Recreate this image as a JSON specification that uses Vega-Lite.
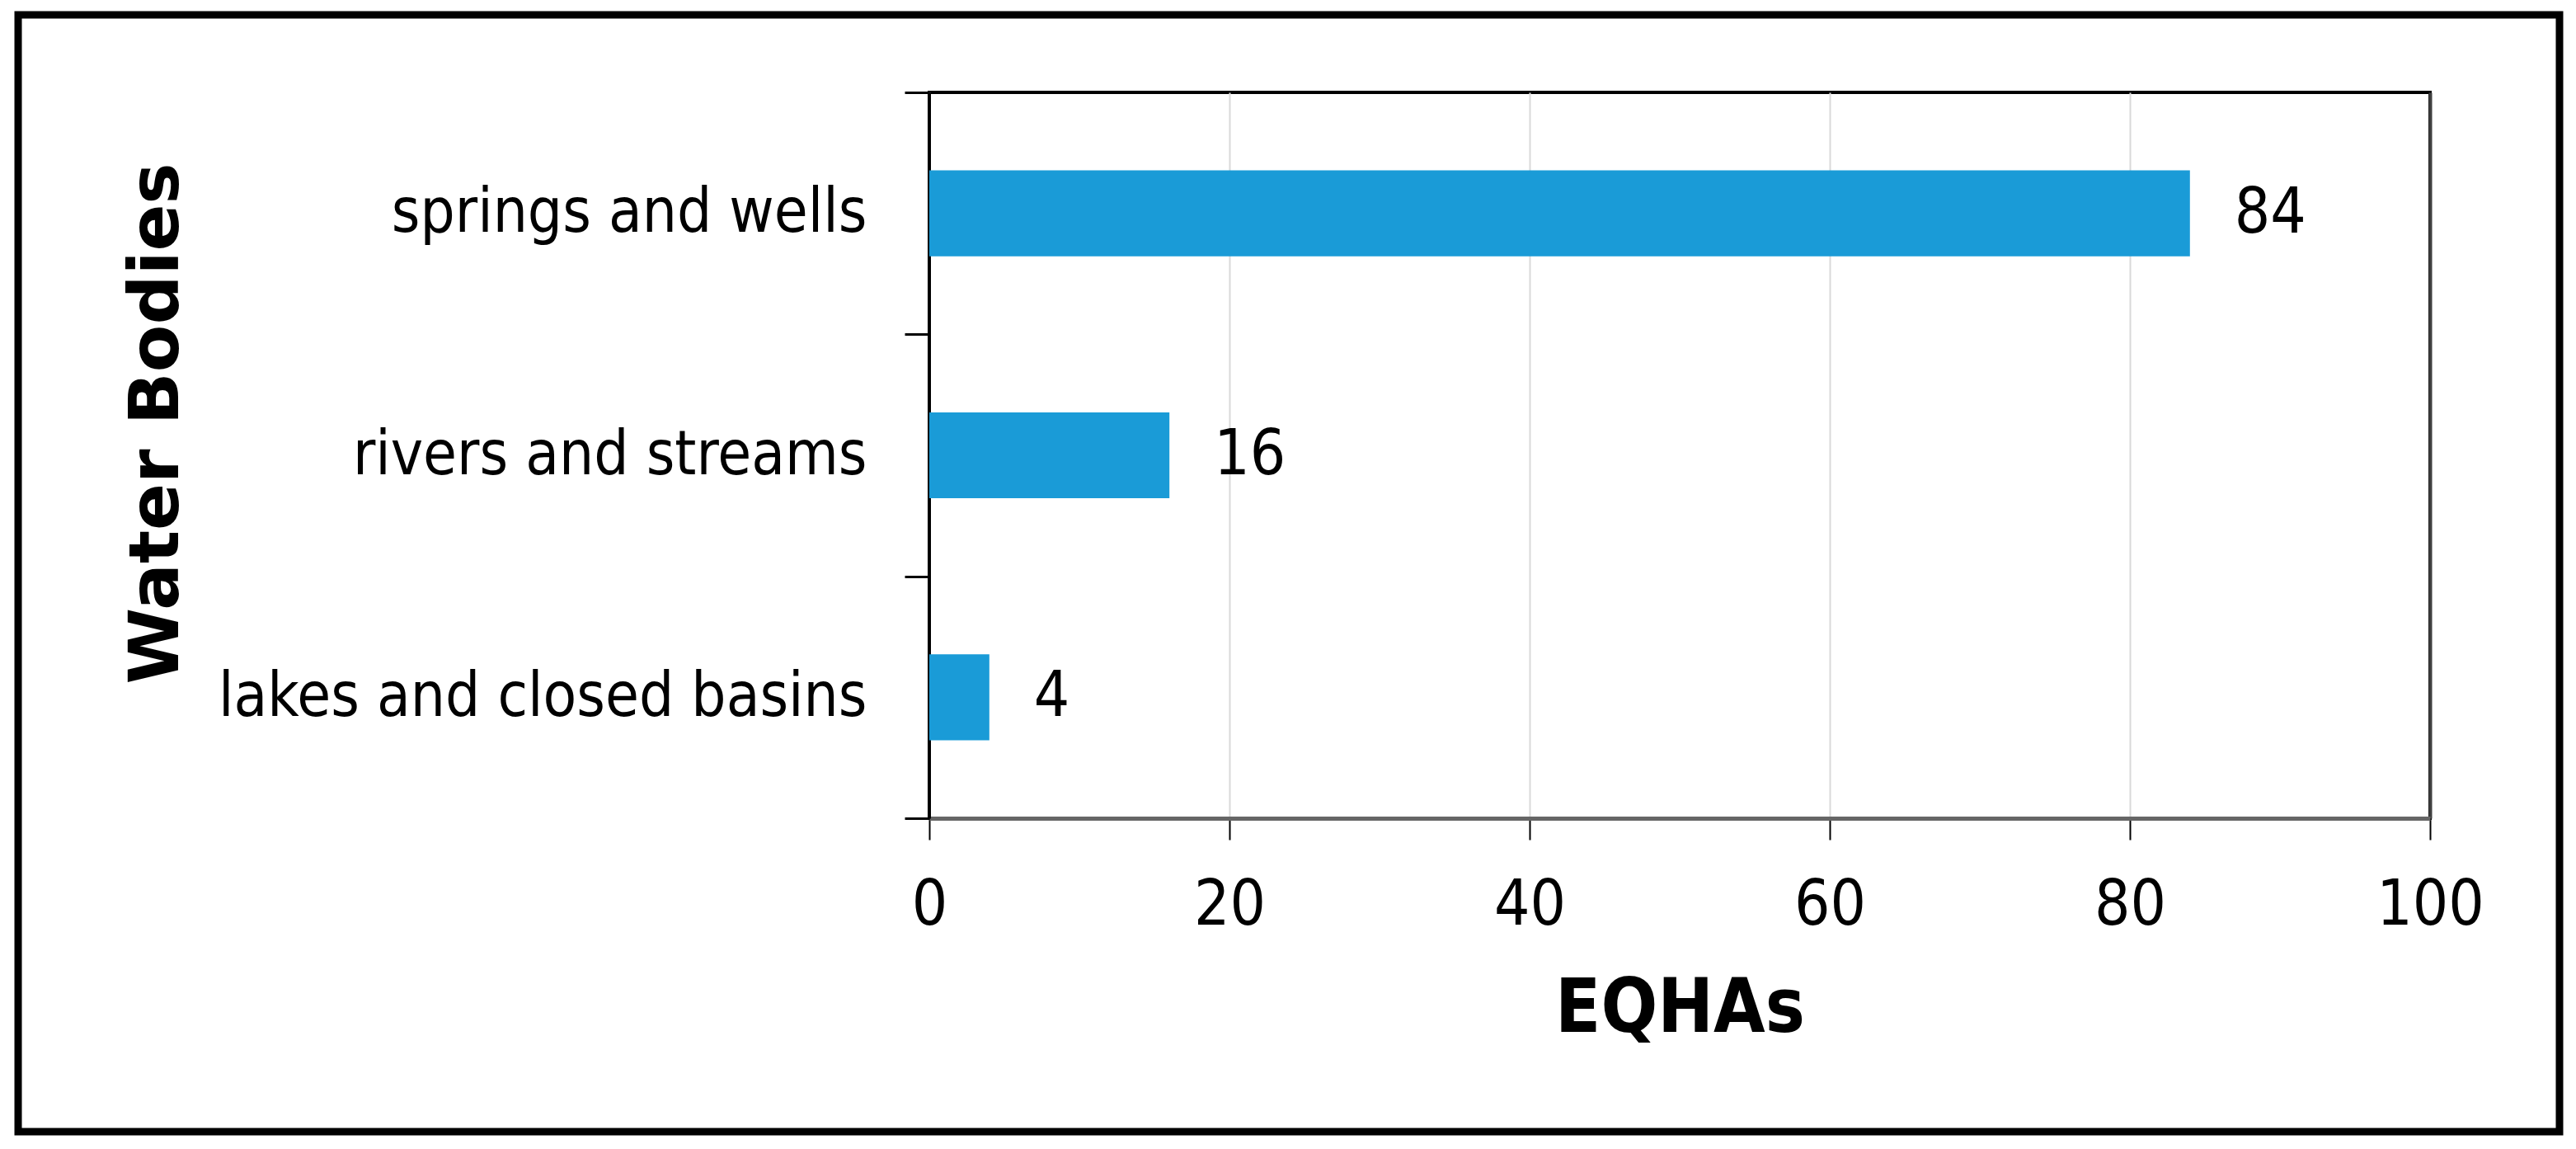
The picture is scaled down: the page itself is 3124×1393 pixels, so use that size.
{
  "$schema": "https://vega.github.io/schema/vega-lite/v6.json",
  "width": 1820,
  "height": 880,
  "autosize": {"type": "none"},
  "padding": {"left": 1127, "top": 112, "right": 177, "bottom": 401},
  "background": "white",
  "config": {
    "view": {"stroke": "black", "strokeWidth": 4},
    "font": "DejaVu Sans"
  },
  "layer": [
    {
      "data": {"values": [
        {"body": "springs and wells", "eqhas": 84},
        {"body": "rivers and streams", "eqhas": 16},
        {"body": "lakes and closed basins", "eqhas": 4}
      ]},
      "layer": [
        {
          "mark": {"type": "bar", "color": "#1a9bd7", "height": {"band": 0.355}},
          "encoding": {
            "y": {
              "field": "body", "type": "nominal",
              "sort": ["springs and wells", "rivers and streams", "lakes and closed basins"],
              "scale": {"paddingInner": 0, "paddingOuter": 0},
              "axis": {
                "title": "Water Bodies",
                "titleFont": "DejaVu Sans",
                "titleFontWeight": "bold",
                "titleFontSize": 84,
                "titleColor": "black",
                "titleAngle": -90,
                "titleX": -912,
                "titleY": 401,
                "titleAlign": "center",
                "titleBaseline": "alphabetic",
                "labelFont": "DejaVu Sans Condensed, DejaVu Sans",
                "labelFontSize": 74,
                "labelColor": "black",
                "labelPadding": 46,
                "labelLimit": 1000,
                "tickBand": "extent",
                "tickSize": 30,
                "tickWidth": 3,
                "tickColor": "black",
                "domainColor": "black",
                "domainWidth": 3,
                "grid": false
              }
            },
            "x": {
              "field": "eqhas", "type": "quantitative",
              "scale": {"domain": [0, 100], "nice": false},
              "axis": {
                "title": "EQHAs",
                "titleFont": "DejaVu Sans Condensed, DejaVu Sans",
                "titleFontWeight": "bold",
                "titleFontSize": 90,
                "titleColor": "black",
                "titleX": 910,
                "titleY": 258,
                "titleAlign": "center",
                "titleBaseline": "alphabetic",
                "values": [0, 20, 40, 60, 80, 100],
                "labelFont": "DejaVu Sans Condensed, DejaVu Sans",
                "labelFontSize": 76,
                "labelColor": "black",
                "labelBaseline": "alphabetic",
                "labelPadding": 102,
                "labelFlush": false,
                "tickSize": 26,
                "tickWidth": 2,
                "tickColor": "black",
                "domainColor": "#666666",
                "domainWidth": 5,
                "grid": true,
                "gridColor": {"condition": {"test": "datum.value === 100", "value": "#404040"}, "value": "#d9d9d9"},
                "gridWidth": {"condition": {"test": "datum.value === 100", "value": 4}, "value": 2}
              }
            }
          }
        },
        {
          "mark": {"type": "text", "align": "left", "baseline": "middle", "dx": 54, "font": "DejaVu Sans Condensed, DejaVu Sans", "fontSize": 76, "color": "black"},
          "encoding": {
            "y": {"field": "body", "type": "nominal", "sort": ["springs and wells", "rivers and streams", "lakes and closed basins"]},
            "x": {"field": "eqhas", "type": "quantitative"},
            "text": {"field": "eqhas", "type": "quantitative"}
          }
        }
      ]
    },
    {
      "data": {"values": [{}]},
      "mark": {"type": "rect", "fill": null, "stroke": "black", "strokeWidth": 9, "clip": false},
      "encoding": {
        "x": {"value": -1105},
        "x2": {"value": 1977},
        "y": {"value": -94},
        "y2": {"value": 1260}
      }
    }
  ]
}
